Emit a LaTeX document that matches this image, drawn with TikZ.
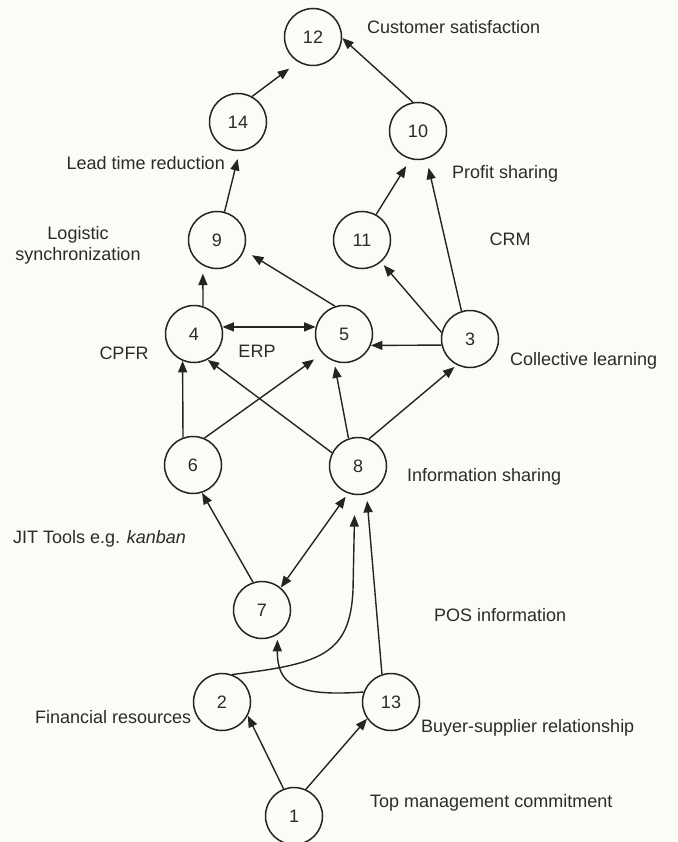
\documentclass[tikz,border=0pt]{standalone}
\usepackage{fontspec}
\setmainfont{Liberation Sans}
\usetikzlibrary{arrows.meta}
\definecolor{paper}{RGB}{252,251,245}
\definecolor{ink}{RGB}{38,36,34}
\definecolor{txt}{RGB}{45,43,41}
\begin{document}
\begin{tikzpicture}[x=1pt,y=-1pt,
  every node/.style={font=\fontsize{18}{21}\selectfont, text=txt},
  circ/.style={circle, draw=ink, line width=1.5pt, minimum size=57pt, inner sep=0pt},
  lab/.style={inner sep=0pt, anchor=base west},
  labr/.style={inner sep=0pt, anchor=base east},
  arr/.style={draw=ink, line width=1.4pt, -{Triangle[length=11.5pt,width=9pt]}},
  darr/.style={draw=ink, line width=1.4pt, {Triangle[length=11.5pt,width=9pt]}-{Triangle[length=11.5pt,width=9pt]}}
]
\fill[paper] (0,0) rectangle (677,842);
\useasboundingbox (0,0) rectangle (677,842);

% nodes
\node[circ] (n12) at (313,37) {12};
\node[circ] (n14) at (238,122) {14};
\node[circ] (n10) at (418,131) {10};
\node[circ] (n9)  at (217,240) {9};
\node[circ] (n11) at (362,240) {11};
\node[circ] (n4)  at (194,334) {4};
\node[circ] (n5)  at (344,334) {5};
\node[circ] (n3)  at (470,339) {3};
\node[circ] (n6)  at (193,465) {6};
\node[circ] (n8)  at (358,466) {8};
\node[circ] (n7)  at (262,610) {7};
\node[circ] (n2)  at (222,702) {2};
\node[circ] (n13) at (391,702) {13};
\node[circ] (n1)  at (294,816) {1};

% labels
\node[lab] (lcust) at (367,33.5) {Customer satisfaction};
\node[labr] (llead) at (225,169.5) {Lead time reduction};
\node[lab] (lprof) at (452,178.5) {Profit sharing};
\node[inner sep=0pt, align=center] (llog) at (78,245) {Logistic\\synchronization};
\node[inner sep=0pt] (lcrm) at (510,239) {CRM};
\node[inner sep=0pt] (lcpfr) at (124,353) {CPFR};
\node[inner sep=0pt] (lerp) at (257,351) {ERP};
\node[lab] (lcoll) at (510,365.5) {Collective learning};
\node[lab] (linfo) at (407,481.5) {Information sharing};
\node[lab] (ljit) at (13,543.5) {JIT Tools e.g. \textit{kanban}};
\node[lab] (lpos) at (434,621.5) {POS information};
\node[lab] (lfin) at (35,723.5) {Financial resources};
\node[lab] (lbuy) at (421,732.5) {Buyer-supplier relationship};
\node[lab] (ltop) at (370,807.5) {Top management commitment};

% connectors
\draw[arr] (n1.111) -- (n2.-28);
\draw[arr] (n1.66) -- (n13.215);
\draw[arr, shorten >=20pt] (n2.70) .. controls (320,664) and (350,655) .. (353,590) -- (n8.-96);
\draw[arr, shorten >=7pt] (n13.108) -- (n8.-73);
\draw[arr, shorten >=5pt] (n13.160) .. controls (295,697) and (277,684) .. (n7.-58);
\draw[arr] (n7.108) -- (n6.-72);
\draw[darr, shorten >=4pt] (n7.50) -- (n8.-110);
\draw[arr] (n6.110) -- (n4.-113);
\draw[arr, shorten >=10pt] (n6.67) -- (n5.-138);
\draw[arr] (n8.153) -- (n4.-62);
\draw[arr, shorten >=5pt] (n8.109) -- (n5.-110);
\draw[arr, shorten >=3pt] (n8.68) -- (n3.-117);
\draw[darr] (n4.14) -- (n5.166);
\draw[arr] (n3.192) -- (n5.-23);
\draw[arr, shorten >=4pt] (n3.167) -- (n11.-49);
\draw[arr, shorten >=9pt] (n3.107) -- (n10.-73);
\draw[arr, shorten >=8pt] (n11.61) -- (n10.-105);
\draw[arr] (n10.100) -- (n12.-2);
\draw[arr, shorten >=11pt] (n14.61) -- (n12.-121);
\draw[arr, shorten >=8pt] (n9.75) -- (n14.-87);
\draw[arr, shorten >=8pt] (n4.72) -- (n9.-119);
\draw[arr, shorten >=9pt] (n5.108) -- (n9.-21);
\end{tikzpicture}
\end{document}
